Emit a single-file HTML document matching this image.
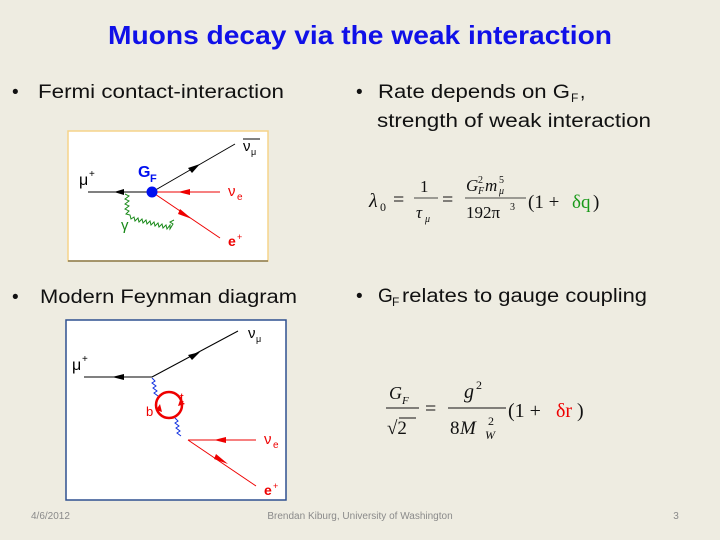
<!DOCTYPE html>
<html><head><meta charset="utf-8"><style>
html,body{margin:0;padding:0;background:#eeece1;}
svg{display:block}
</style></head><body>
<svg width="720" height="540" viewBox="0 0 720 540" xmlns="http://www.w3.org/2000/svg" font-family="Liberation Sans, sans-serif">
<rect width="720" height="540" fill="#eeece1"/>
<text x="360" y="44" text-anchor="middle" font-size="26" font-weight="bold" fill="#1010e8" textLength="504" lengthAdjust="spacingAndGlyphs">Muons decay via the weak interaction</text>

<text x="12" y="98" font-size="19" fill="#111">•</text>
<text x="38" y="98" font-size="19" fill="#111" textLength="246" lengthAdjust="spacingAndGlyphs">Fermi contact-interaction</text>
<text x="356" y="98" font-size="19" fill="#111">•</text>
<text x="378" y="98" font-size="19" fill="#111" textLength="192" lengthAdjust="spacingAndGlyphs">Rate depends on G</text>
<text x="571" y="102" font-size="12" fill="#111">F</text><text x="580" y="98" font-size="19" fill="#111">,</text>
<text x="377" y="127" font-size="19" fill="#111" textLength="274" lengthAdjust="spacingAndGlyphs">strength of weak interaction</text>

<text x="12" y="303" font-size="19" fill="#111">•</text>
<text x="40" y="303" font-size="19" fill="#111" textLength="257" lengthAdjust="spacingAndGlyphs">Modern Feynman diagram</text>
<text x="356" y="302" font-size="19" fill="#111">•</text>
<text x="378" y="302" font-size="19" fill="#111">G</text>
<text x="392" y="306" font-size="12" fill="#111">F</text>
<text x="402" y="302" font-size="19" fill="#111" textLength="245" lengthAdjust="spacingAndGlyphs">relates to gauge coupling</text>

<!-- Box 1 -->
<rect x="68" y="131" width="200" height="130" fill="#fff" stroke="#f5d48a" stroke-width="1.5"/>
<line x1="68" y1="261" x2="268" y2="261" stroke="#8a7a50" stroke-width="1.5"/>
<line x1="88" y1="192" x2="152" y2="192" stroke="#000" stroke-width="1"/>
<polygon points="114,192 124,189 124,195" fill="#000"/>
<line x1="152" y1="192" x2="235" y2="144" stroke="#000" stroke-width="1"/>
<polygon points="200,164 188,168 192,173" fill="#000"/>
<line x1="152" y1="192" x2="220" y2="192" stroke="#e00" stroke-width="1"/>
<polygon points="178,192 190,189 190,195" fill="#e00"/>
<line x1="152" y1="192" x2="220" y2="238" stroke="#e00" stroke-width="1"/>
<polygon points="192,219 180,209 178,214" fill="#e00"/>
<path d="M125,194 l4,2 l-4,3 l4,2 l-4,3 l4,2 l-4,3 l4,2 l-3,3 l4,1 l1,4 l3,-2 l1,4 l3,-3 l1,4 l3,-3 l1,4 l3,-3 l1,4 l3,-3 l1,4 l3,-3 l1,4 l3,-3 l1,4 l3,-3 l1,4 l3,-3 l1,4 l3,-4 l0,4 l3,-5 l-3,-2 l4,-2" fill="none" stroke="#1a8a1a" stroke-width="1"/>
<circle cx="152" cy="192" r="5.5" fill="#0010f0"/>
<text x="79" y="185" font-size="16" fill="#000">μ</text><text x="89" y="177" font-size="10" fill="#000">+</text>
<text x="138" y="177" font-size="16" font-weight="bold" fill="#0010f0">G</text><text x="150" y="182" font-size="11" font-weight="bold" fill="#0010f0">F</text>
<text x="243" y="151" font-size="15" fill="#000">ν</text><text x="251" y="155" font-size="9" fill="#000">μ</text>
<line x1="243" y1="139" x2="260" y2="139" stroke="#000" stroke-width="1"/>
<text x="228" y="196" font-size="15" fill="#e00">ν</text><text x="237" y="200" font-size="10" fill="#e00">e</text>
<text x="228" y="246" font-size="14" font-weight="bold" fill="#e00">e</text><text x="237" y="240" font-size="9" fill="#e00">+</text>
<text x="121" y="230" font-size="15" fill="#1a8a1a">γ</text>

<!-- Box 2 -->
<rect x="66" y="320" width="220" height="180" fill="#fff" stroke="#2f5090" stroke-width="1.5"/>
<line x1="84" y1="377" x2="152" y2="377" stroke="#000" stroke-width="1"/>
<polygon points="112,377 124,374 124,380" fill="#000"/>
<line x1="152" y1="377" x2="238" y2="331" stroke="#000" stroke-width="1"/>
<polygon points="200,352 188,355 192,360" fill="#000"/>
<path d="M152,378 l3,3 l-3,2 l4,3 l-3,2 l4,3 l-3,2 l4,3" fill="none" stroke="#1030e0" stroke-width="1"/>
<circle cx="169" cy="405" r="13" fill="none" stroke="#e00" stroke-width="2.5"/>
<polygon points="180,400 185,404 178,406" fill="#e00"/>
<polygon points="156,410 160,404 162,412" fill="#e00"/>
<path d="M175,418 l3,3 l-3,2 l4,3 l-3,2 l4,3 l-3,2 l4,3" fill="none" stroke="#1030e0" stroke-width="1"/>
<line x1="188" y1="440" x2="256" y2="440" stroke="#e00" stroke-width="1"/>
<polygon points="214,440 226,437 226,443" fill="#e00"/>
<line x1="188" y1="440" x2="256" y2="486" stroke="#e00" stroke-width="1"/>
<polygon points="228,464 216,454 214,459" fill="#e00"/>
<text x="180" y="402" font-size="13" fill="#e00">t</text>
<text x="146" y="416" font-size="13" fill="#e00">b</text>
<text x="72" y="370" font-size="16" fill="#000">μ</text><text x="82" y="362" font-size="10" fill="#000">+</text>
<text x="248" y="338" font-size="15" fill="#000">ν</text><text x="256" y="342" font-size="9" fill="#000">μ</text>
<text x="264" y="444" font-size="15" fill="#e00">ν</text><text x="273" y="448" font-size="10" fill="#e00">e</text>
<text x="264" y="495" font-size="14" font-weight="bold" fill="#e00">e</text><text x="273" y="489" font-size="9" fill="#e00">+</text>

<!-- Formula 1 -->
<g font-family="Liberation Serif, serif" fill="#111">
<text x="369" y="207" font-size="20" font-style="italic">λ</text><text x="380" y="211" font-size="12">0</text>
<text x="393" y="206" font-size="20">=</text>
<text x="420" y="192" font-size="17">1</text>
<line x1="414" y1="198" x2="438" y2="198" stroke="#111" stroke-width="0.8"/>
<text x="416" y="218" font-size="17" font-style="italic">τ</text><text x="425" y="222" font-size="10" font-style="italic">μ</text>
<text x="442" y="206" font-size="20">=</text>
<text x="466" y="191" font-size="17" font-style="italic">G</text><text x="478" y="183" font-size="10">2</text><text x="478" y="194" font-size="10" font-style="italic">F</text>
<text x="485" y="191" font-size="17" font-style="italic">m</text><text x="499" y="183" font-size="10">5</text><text x="499" y="194" font-size="10" font-style="italic">μ</text>
<line x1="465" y1="198" x2="526" y2="198" stroke="#111" stroke-width="0.8"/>
<text x="466" y="218" font-size="17">192π</text><text x="510" y="210" font-size="10">3</text>
<text x="528" y="208" font-size="19">(1 + </text><text x="572" y="208" font-size="19" fill="#1a9a1a">δq</text><text x="593" y="208" font-size="19">)</text>
</g>

<!-- Formula 2 -->
<g font-family="Liberation Serif, serif" fill="#111">
<text x="389" y="399" font-size="18" font-style="italic">G</text><text x="402" y="404" font-size="11" font-style="italic">F</text>
<line x1="386" y1="408" x2="419" y2="408" stroke="#111" stroke-width="1"/>
<text x="387" y="434" font-size="19">√2</text>
<line x1="399" y1="418" x2="416" y2="418" stroke="#111" stroke-width="1"/>
<text x="425" y="415" font-size="20">=</text>
<text x="464" y="398" font-size="20" font-style="italic">g</text><text x="476" y="389" font-size="12">2</text>
<line x1="448" y1="408" x2="506" y2="408" stroke="#111" stroke-width="1"/>
<text x="450" y="434" font-size="19">8</text><text x="460" y="434" font-size="19" font-style="italic">M</text>
<text x="488" y="425" font-size="12">2</text><text x="485" y="439" font-size="12" font-style="italic">W</text>
<text x="508" y="417" font-size="20">(1 + </text><text x="556" y="417" font-size="20" fill="#e00">δr</text><text x="577" y="417" font-size="20">)</text>
</g>

<text x="31" y="519" font-size="10" fill="#8a8a8a">4/6/2012</text>
<text x="360" y="519" font-size="10" fill="#8a8a8a" text-anchor="middle">Brendan Kiburg, University of Washington</text>
<text x="676" y="519" font-size="10" fill="#8a8a8a" text-anchor="middle">3</text>
</svg>
</body></html>
